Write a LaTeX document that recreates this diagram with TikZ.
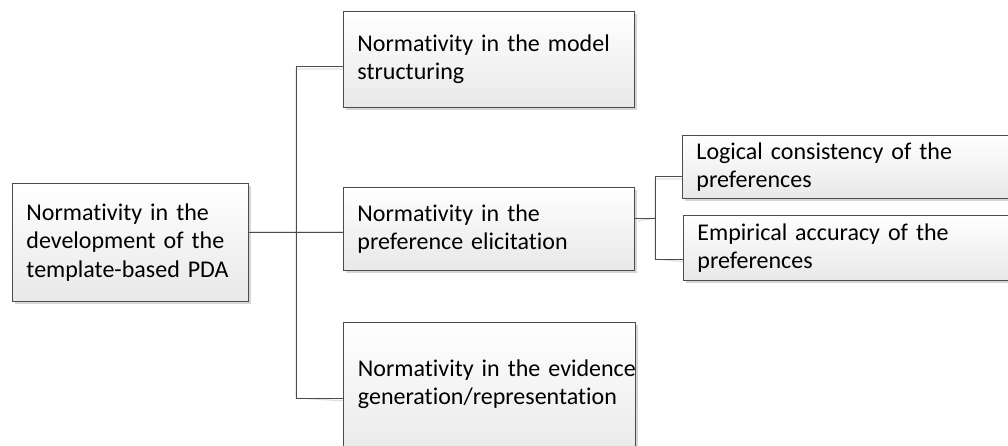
\documentclass[tikz,border=0pt]{standalone}
\usepackage{fontspec}
\setmainfont{Carlito}[Ligatures={NoCommon,NoContextual}]
\usetikzlibrary{shadows,calc}

\tikzset{
  card/.style={
    draw=black!70, line width=0.9pt,
    top color=white, bottom color=black!9,
    drop shadow={shadow xshift=3pt, shadow yshift=-3pt, fill=black!16, opacity=1},
    rectangle, anchor=north west, align=left,
    inner xsep=14pt, inner ysep=0pt,
    font=\fontsize{24}{28.5}\selectfont
  },
  link/.style={draw=black!70, line width=0.9pt},
  linkshadow/.style={draw=black!12, line width=1.2pt, shift={(3pt,-3pt)}}
}

\begin{document}
\begin{tikzpicture}[x=1pt, y=1pt]
  \clip (0,0) rectangle (1008,-446);

  % junction points of the tree connectors
  \coordinate (bus) at (296,-232);
  \coordinate (aj)  at (296,-66);
  \coordinate (cj)  at (296,-398);
  \coordinate (br)  at (655,-218);
  \coordinate (dj)  at (655,-176);
  \coordinate (ej)  at (655,-259);

  % connector shadows
  \path[linkshadow] (bus) ++(-48,0) -- ++(95,0);
  \path[linkshadow] (343,-66) -| (cj) -- (343,-398);
  \path[linkshadow] (635,-218) -- (br);
  \path[linkshadow] (682,-176) -| (ej) -- (683,-259);

  % boxes
  \node[card, text width=208pt, minimum height=118pt] (root) at (12,-183)
    {Normativity in the\\development of the\\template-based PDA};
  \node[card, text width=263pt, minimum height=96pt] (A) at (343,-11)
    {Normativity in the model\\structuring};
  \node[card, text width=263pt, minimum height=83pt] (B) at (343,-187)
    {Normativity in the\\preference elicitation};
  \node[card, text width=263pt, minimum height=140pt, inner xsep=14.5pt] (C) at (343,-322)
    {\mbox{Normativity in the evidence}\\generation/representation\\[-7.5pt]\mbox{}};
  \node[card, text width=330pt, minimum height=63pt] (D) at (682,-135)
    {Logical consistency of the\\preferences};
  \node[card, text width=330pt, minimum height=65pt] (E) at (683,-215)
    {Empirical accuracy of the\\preferences};

  % connectors
  \draw[link] (root.east |- bus) -- (B.west |- bus);
  \draw[link] (A.west |- aj) -| (cj) -- (C.west |- cj);
  \draw[link] (B.east |- br) -- (br);
  \draw[link] (D.west |- dj) -| (ej) -- (E.west |- ej);
\end{tikzpicture}
\end{document}
